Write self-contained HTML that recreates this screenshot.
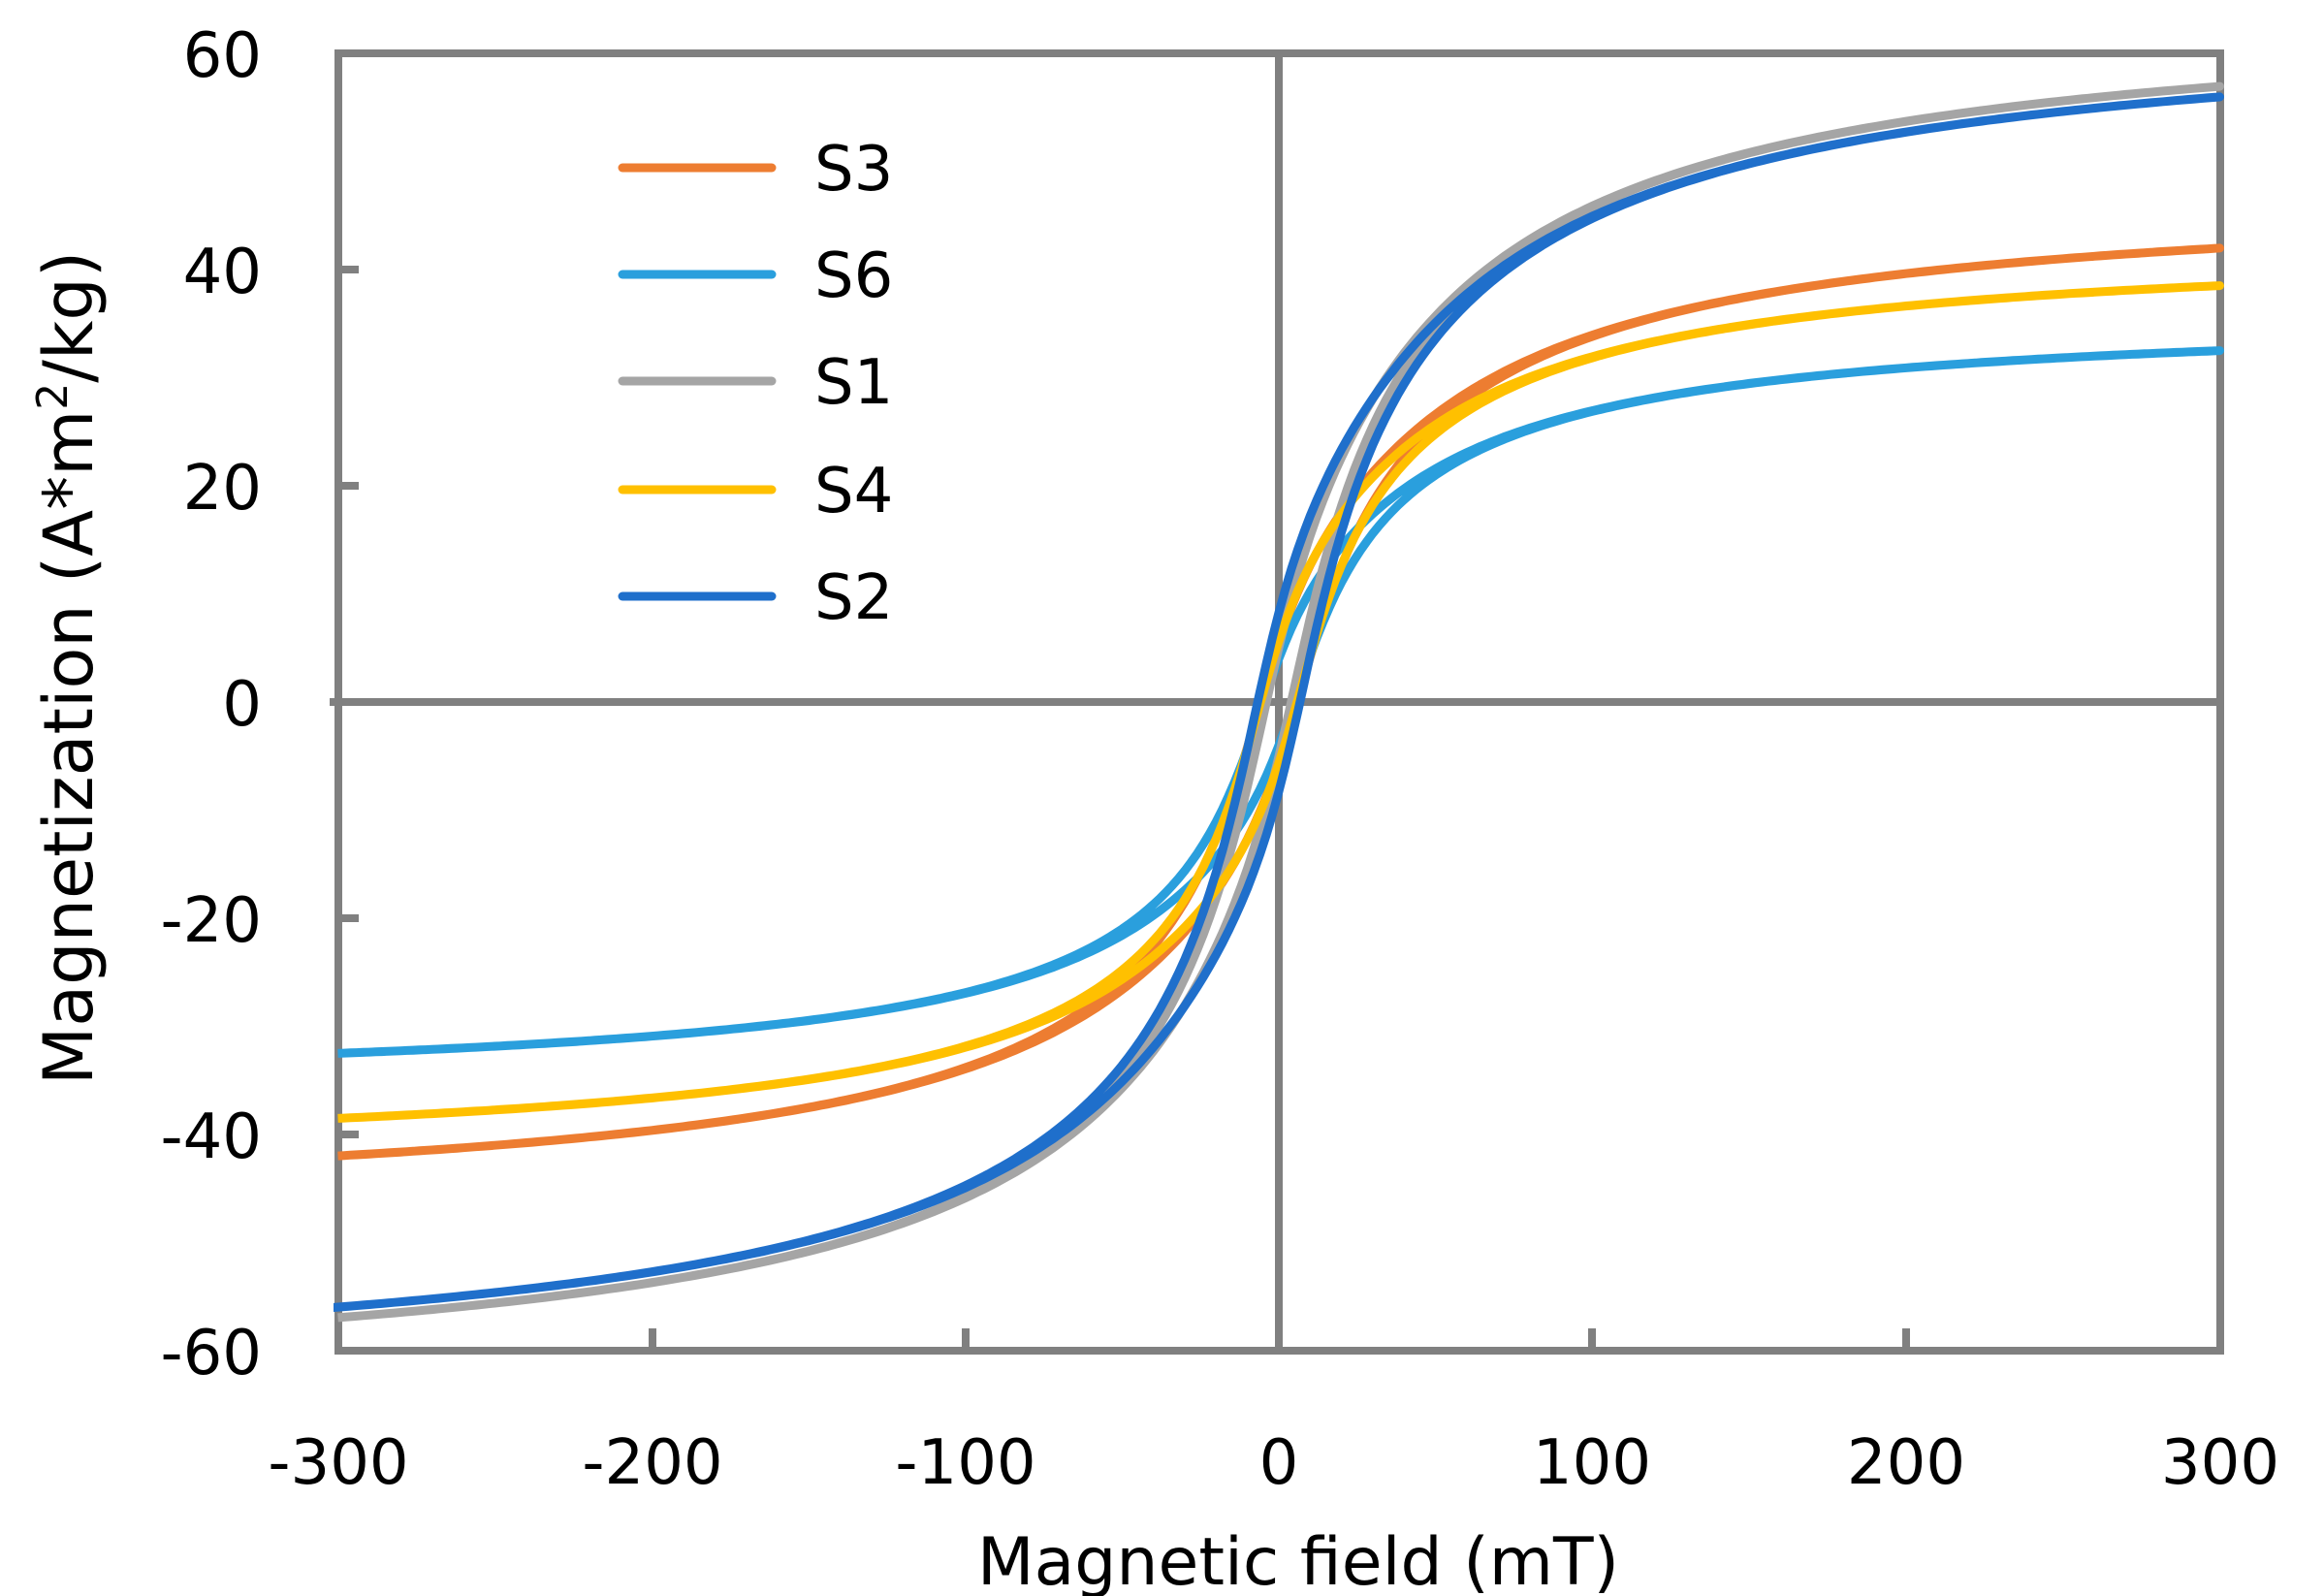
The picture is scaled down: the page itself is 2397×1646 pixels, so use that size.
<!DOCTYPE html>
<html><head><meta charset="utf-8"><style>
html,body{margin:0;padding:0;background:#fff}
svg{display:block}
text{font-family:"DejaVu Sans","Liberation Sans",sans-serif;fill:#000}
</style></head><body>
<svg id="s" width="2397" height="1646" viewBox="0 0 2397 1646" xmlns="http://www.w3.org/2000/svg">
<g stroke="#808080" stroke-width="8" fill="none">
<rect x="349" y="55" width="1941" height="1338"/>
<line x1="1319" y1="55" x2="1319" y2="1393"/>
<line x1="340" y1="724" x2="2290" y2="724"/>
<line x1="349" y1="278" x2="370" y2="278"/>
<line x1="349" y1="501" x2="370" y2="501"/>
<line x1="349" y1="947" x2="370" y2="947"/>
<line x1="349" y1="1170" x2="370" y2="1170"/>
<line x1="673" y1="1393" x2="673" y2="1370"/>
<line x1="996" y1="1393" x2="996" y2="1370"/>
<line x1="1642" y1="1393" x2="1642" y2="1370"/>
<line x1="1966" y1="1393" x2="1966" y2="1370"/>
</g>
<g id="curves" fill="none" stroke-width="9" stroke-linecap="round"></g>
<g font-size="64" text-anchor="end">
<text x="270" y="79">60</text>
<text x="270" y="302">40</text>
<text x="270" y="525">20</text>
<text x="270" y="748">0</text>
<text x="270" y="971">-20</text>
<text x="270" y="1194">-40</text>
<text x="270" y="1417">-60</text>
</g>
<g font-size="64" text-anchor="middle">
<text x="349" y="1530">-300</text>
<text x="673" y="1530">-200</text>
<text x="996" y="1530">-100</text>
<text x="1319" y="1530">0</text>
<text x="1642" y="1530">100</text>
<text x="1966" y="1530">200</text>
<text x="2290" y="1530">300</text>
<text x="1339" y="1634" font-size="68">Magnetic field (mT)</text>
<text transform="translate(95,689) rotate(-90)" font-size="70">Magnetization (A*m<tspan font-size="44" dy="-26">2</tspan><tspan dy="26">/kg)</tspan></text>
</g>
<g stroke-width="9" stroke-linecap="round">
<line x1="642" y1="173" x2="796" y2="173" stroke="#ED7D31"/>
<line x1="642" y1="283" x2="796" y2="283" stroke="#2A9FDD"/>
<line x1="642" y1="393" x2="796" y2="393" stroke="#A5A5A5"/>
<line x1="642" y1="505" x2="796" y2="505" stroke="#FFC000"/>
<line x1="642" y1="615" x2="796" y2="615" stroke="#1F6FCB"/>
</g>
<g font-size="64">
<text x="840" y="196">S3</text>
<text x="840" y="306">S6</text>
<text x="840" y="416">S1</text>
<text x="840" y="528">S4</text>
<text x="840" y="638">S2</text>
</g>
</svg>
<script>
var series=[
 ["#ED7D31",47.6,40,6],
 ["#2A9FDD",36.2,34,5],
 ["#A5A5A5",64.7,40.7,4],
 ["#FFC000",42.9,34,6],
 ["#1F6FCB",63.8,41.8,7]
];
function X(h){return 1319+h*1941/600;}
function Y(m){return 724-m*1338/120;}
var g=document.getElementById('curves');
series.forEach(function(s){
 var Ms=s[1],h=s[2],hc=s[3];
 function f(x){return Ms*x/(Math.sqrt(x*x+100)+h);}
 function sh(H){return hc/(1+(H/35)*(H/35));}
 var d="";
 for(var H=300;H>=-300;H-=2){var m=f(H+sh(H));d+=(d?"L":"M")+X(H).toFixed(1)+","+Y(m).toFixed(1);}
 for(var H=-300;H<=300;H+=2){var m=f(H-sh(H));d+="L"+X(H).toFixed(1)+","+Y(m).toFixed(1);}
 var p=document.createElementNS("http://www.w3.org/2000/svg","path");
 p.setAttribute("d",d);p.setAttribute("stroke",s[0]);g.appendChild(p);
});
</script>
</body></html>
